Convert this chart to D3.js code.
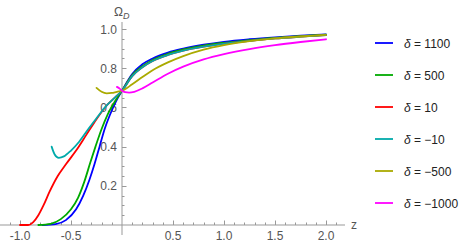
<!DOCTYPE html>
<html>
<head>
<meta charset="utf-8">
<script src="https://cdn.jsdelivr.net/npm/d3@7"></script>
<style>
  html, body { margin: 0; padding: 0; background: #fff; }
  svg { display: block; font-family: "Liberation Sans", Arial, sans-serif; }
</style>
</head>
<body>
<svg id="chart" width="467" height="244"></svg>
<script>
// ---- data ----
const seriesNames = ["δ = 1100", "δ = 500", "δ = 10", "δ = −10", "δ = −500", "δ = −1000"];
const seriesColors = ["#0000ff", "#00aa00", "#ff0000", "#00aaaa", "#aaaa00", "#ff00ff"];

const z1100 = [-0.78, -0.65, -0.55, -0.45, -0.38, -0.32, -0.27, -0.22, -0.17, -0.12, -0.06, 0, 0.1, 0.2, 0.3, 0.45, 0.6, 0.8, 1.0, 1.25, 1.5, 1.75, 2.0];
const w1100 = [0.0, 0.005, 0.025, 0.08, 0.15, 0.23, 0.31, 0.40, 0.49, 0.56, 0.63, 0.685, 0.77, 0.82, 0.85, 0.88, 0.90, 0.92, 0.935, 0.948, 0.958, 0.966, 0.973];

const z500 = [-0.82, -0.7, -0.6, -0.5, -0.43, -0.37, -0.31, -0.26, -0.2, -0.14, -0.07, 0, 0.1, 0.2, 0.3, 0.45, 0.6, 0.8, 1.0, 1.25, 1.5, 1.75, 2.0];
const w500 = [0.0, 0.006, 0.03, 0.08, 0.14, 0.22, 0.32, 0.40, 0.49, 0.565, 0.63, 0.685, 0.765, 0.81, 0.842, 0.874, 0.896, 0.916, 0.93, 0.944, 0.955, 0.964, 0.971];

const z10 = [-1.0, -0.92, -0.87, -0.82, -0.77, -0.71, -0.63, -0.55, -0.45, -0.35, -0.25, -0.15, -0.07, 0, 0.1, 0.2, 0.3, 0.45, 0.6, 0.8, 1.0, 1.25, 1.5, 1.75, 2.0];
const w10 = [0.0, 0.0, 0.015, 0.05, 0.10, 0.17, 0.25, 0.31, 0.38, 0.46, 0.54, 0.61, 0.65, 0.685, 0.76, 0.805, 0.837, 0.868, 0.89, 0.91, 0.926, 0.94, 0.952, 0.961, 0.969];

const zm10 = [-0.69, -0.66, -0.62, -0.57, -0.5, -0.42, -0.33, -0.25, -0.15, -0.07, 0, 0.1, 0.2, 0.3, 0.45, 0.6, 0.8, 1.0, 1.25, 1.5, 1.75, 2.0];
const wm10 = [0.40, 0.36, 0.343, 0.35, 0.38, 0.425, 0.49, 0.545, 0.61, 0.65, 0.685, 0.76, 0.805, 0.837, 0.868, 0.89, 0.91, 0.926, 0.94, 0.952, 0.961, 0.969];

const zm500 = [-0.25, -0.2, -0.15, -0.1, -0.05, 0, 0.1, 0.2, 0.3, 0.45, 0.6, 0.8, 1.0, 1.25, 1.5, 1.75, 2.0];
const wm500 = [0.70, 0.68, 0.672, 0.674, 0.68, 0.685, 0.718, 0.755, 0.79, 0.83, 0.862, 0.895, 0.918, 0.938, 0.952, 0.962, 0.97];

const zm1000 = [-0.05, -0.02, 0, 0.03, 0.07, 0.12, 0.2, 0.3, 0.45, 0.6, 0.8, 1.0, 1.25, 1.5, 1.75, 2.0];
const wm1000 = [0.705, 0.695, 0.685, 0.678, 0.676, 0.68, 0.697, 0.727, 0.772, 0.808, 0.845, 0.872, 0.898, 0.918, 0.934, 0.948];

const seriesZ = [z1100, z500, z10, zm10, zm500, zm1000];
const seriesW = [w1100, w500, w10, wm10, wm500, wm1000];

const xMajorTicks = [-1.0, -0.5, 0.5, 1.0, 1.5, 2.0];
const yMajorTicks = [0.2, 0.4, 0.6, 0.8, 1.0];

// ---- drawing ----
const svg = d3.select("#chart");
const x = d3.scaleLinear().domain([-1.196, 2.186]).range([0, 345]);
const y = d3.scaleLinear().domain([-0.051, 1.036]).range([235, 22]);

const axisColor = "#999999";
const labelColor = "#555555";

// x minor ticks
const xMinor = d3.range(-11, 22).map(i => i / 10).filter(v => Math.abs(v) > 1e-9);
const yMinor = d3.range(1, 21).map(i => i / 20);

const gx = svg.append("g");
gx.append("line").attr("x1", x(-1.196)).attr("x2", x(2.186))
  .attr("y1", y(0)).attr("y2", y(0)).attr("stroke", axisColor).attr("stroke-width", 1);
gx.selectAll("line.minor").data(xMinor).enter().append("line")
  .attr("x1", d => Math.round(x(d)) + 0.5).attr("x2", d => Math.round(x(d)) + 0.5)
  .attr("y1", y(0)).attr("y2", d => {
    const major = xMajorTicks.some(t => Math.abs(t - d) < 1e-9);
    return y(0) - (major ? 4.5 : 2.5);
  })
  .attr("stroke", axisColor).attr("stroke-width", 1);
gx.selectAll("text").data(xMajorTicks).enter().append("text")
  .attr("x", d => x(d)).attr("y", y(0) + 15)
  .attr("text-anchor", "middle").attr("font-size", 12).attr("fill", labelColor)
  .text(d => (d < 0 ? "-" : "") + Math.abs(d).toFixed(1));

const gy = svg.append("g");
gy.append("line").attr("x1", x(0)).attr("x2", x(0))
  .attr("y1", y(-0.051)).attr("y2", y(1.036)).attr("stroke", axisColor).attr("stroke-width", 1);
gy.selectAll("line.minor").data(yMinor).enter().append("line")
  .attr("y1", d => Math.round(y(d)) + 0.5).attr("y2", d => Math.round(y(d)) + 0.5)
  .attr("x1", x(0)).attr("x2", d => {
    const major = yMajorTicks.some(t => Math.abs(t - d) < 1e-9);
    return x(0) + (major ? 4.5 : 2.5);
  })
  .attr("stroke", axisColor).attr("stroke-width", 1);
gy.selectAll("text").data(yMajorTicks).enter().append("text")
  .attr("x", x(0) - 5).attr("y", d => y(d) + 4.5)
  .attr("text-anchor", "end").attr("font-size", 12).attr("fill", labelColor)
  .text(d => d.toFixed(1));

// axis labels
const yl = svg.append("text").attr("x", x(0) - 8).attr("y", 16)
  .attr("font-size", 12).attr("fill", labelColor);
yl.append("tspan").text("Ω");
yl.append("tspan").attr("font-size", 9).attr("font-style", "italic").attr("dy", 3).text("D");
svg.append("text").attr("x", 351).attr("y", 229).attr("font-size", 12)
  .attr("fill", labelColor).text("z");

// curves
const line = d3.line().x(d => x(d[0])).y(d => y(d[1])).curve(d3.curveMonotoneX);
const gLines = svg.append("g");
seriesZ.forEach((zs, i) => {
  const pts = zs.map((z, k) => [z, seriesW[i][k]]);
  gLines.append("path").datum(pts).attr("d", line)
    .attr("fill", "none").attr("stroke", seriesColors[i])
    .attr("stroke-width", 1.8).attr("stroke-linejoin", "round").attr("stroke-linecap", "round");
});

// legend
const lg = svg.append("g");
seriesNames.forEach((name, i) => {
  const cy = 43 + i * 32;
  lg.append("line").attr("x1", 375).attr("x2", 393).attr("y1", cy).attr("y2", cy)
    .attr("stroke", seriesColors[i]).attr("stroke-width", 1.8);
  const t = lg.append("text").attr("x", 404).attr("y", cy + 4.5)
    .attr("font-size", 12).attr("fill", "#222");
  const parts = name.split(" = ");
  t.append("tspan").attr("font-style", "italic").text(parts[0]);
  t.append("tspan").text(" = " + parts[1]);
});
</script>
</body>
</html>
